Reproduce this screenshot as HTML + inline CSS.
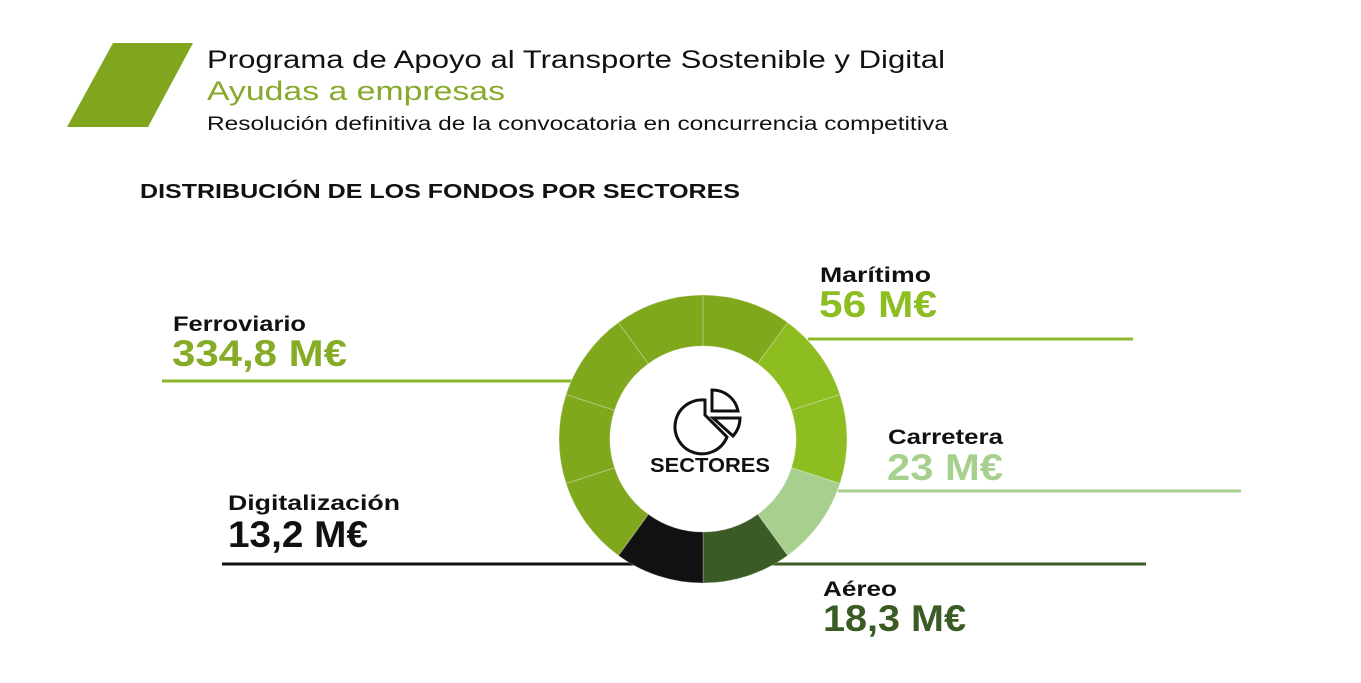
<!DOCTYPE html>
<html><head><meta charset="utf-8"><style>
html,body{margin:0;padding:0;background:#fff;}
svg{display:block;font-family:"Liberation Sans",sans-serif;}
</style></head><body>
<svg width="1361" height="683" viewBox="0 0 1361 683">
<polygon points="113,43 193,43 148,127 67,127" fill="#7fa61e"/>
<text x="207" y="68" font-size="25" fill="#111" textLength="738" lengthAdjust="spacingAndGlyphs">Programa de Apoyo al Transporte Sostenible y Digital</text>
<text x="207" y="100" font-size="27" fill="#86aa2c" textLength="298" lengthAdjust="spacingAndGlyphs">Ayudas a empresas</text>
<text x="207" y="130" font-size="19" fill="#111" textLength="741" lengthAdjust="spacingAndGlyphs">Resolución definitiva de la convocatoria en concurrencia competitiva</text>
<text x="140" y="198" font-size="20" font-weight="bold" fill="#111" textLength="600" lengthAdjust="spacingAndGlyphs">DISTRIBUCIÓN DE LOS FONDOS POR SECTORES</text>
<g id="lines"></g>
<g id="donut"></g>
<g id="labels"></g>
<g fill="none" stroke="#111" stroke-width="3">
<path d="M705,400 A27,27 0 1 0 727,437 L705,415 Z"/>
<path d="M712,390 L712,411 L738,411 A26,26 0 0 0 712,390 Z"/>
<path d="M713,418 L740,418 A27,27 0 0 1 733,436 Z"/>
</g>
<text x="710" y="472" font-size="20" font-weight="bold" fill="#111" text-anchor="middle" textLength="120" lengthAdjust="spacingAndGlyphs">SECTORES</text>
</svg>
<script>
const sectors = ["Ferroviario","Marítimo","Carretera","Aéreo","Digitalización"];
const values = [334.8, 56, 23, 18.3, 13.2];
const valueLabels = ["334,8 M€","56 M€","23 M€","18,3 M€","13,2 M€"];
const segmentUnits = [5, 2, 1, 1, 1];
const colors = ["#80a81c","#8dbd21","#a7d08f","#3b5b24","#111111"];
const NS="http://www.w3.org/2000/svg";
const cx=703, cy=439, R=144, r=93;
function mk(tag,attrs,parent){const e=document.createElementNS(NS,tag);for(const k in attrs)e.setAttribute(k,attrs[k]);parent.appendChild(e);return e;}
function pt(a,rad){return [cx+rad*Math.sin(a*Math.PI/180), cy-rad*Math.cos(a*Math.PI/180)];}
// order around the ring clockwise from top: Ferroviario first unit, then Marítimo, Carretera, Aéreo, Digitalización, rest of Ferroviario
const total=segmentUnits.reduce((a,b)=>a+b,0);
const step=360/total;
const order=[];
order.push(0);
for(let i=1;i<sectors.length;i++)for(let k=0;k<segmentUnits[i];k++)order.push(i);
for(let k=1;k<segmentUnits[0];k++)order.push(0);
const donut=document.getElementById('donut');
order.forEach((si,j)=>{
  const a0=j*step,a1=(j+1)*step;
  const [x0,y0]=pt(a0,R),[x1,y1]=pt(a1,R),[x2,y2]=pt(a1,r),[x3,y3]=pt(a0,r);
  const p=mk('path',{d:`M${x0},${y0} A${R},${R} 0 0 1 ${x1},${y1} L${x2},${y2} A${r},${r} 0 0 0 ${x3},${y3} Z`,fill:colors[si],stroke:"rgba(255,255,255,0.25)","stroke-width":"1"},donut);
  
  
});
// leader lines and labels
const lineY=[381,339,491,564,564];
const lineX1=[162,808,838,770,222];
const lineX2=[575,1133,1241,1146,640];
const lineColor=["#8ab52a","#8dbb2a","#a7d08f","#3b5b24","#111111"];
const lines=document.getElementById('lines');
sectors.forEach((s,i)=>{
  const l=mk('line',{x1:lineX1[i],x2:lineX2[i],y1:lineY[i],y2:lineY[i],stroke:lineColor[i],"stroke-width":"3"},lines);
  
  
});
const labX=[173,820,888,823,228];
const labY=[331,282,444,596,510];
const labW=[133,111,115,74,172];
const valX=[172,819,887,823,228];
const valY=[366,317,480,631,547];
const valW=[175,118,116,143,140];
const valColor=["#86ab25","#8dbd21","#a7d08f","#3b5b24","#111111"];
const labels=document.getElementById('labels');
sectors.forEach((s,i)=>{
  const t=mk('text',{x:labX[i],y:labY[i],"font-size":"21","font-weight":"bold",fill:"#111",textLength:labW[i],lengthAdjust:"spacingAndGlyphs"},labels);
  t.textContent=s;
  
  
  const v=mk('text',{x:valX[i],y:valY[i],"font-size":"37","font-weight":"bold",fill:valColor[i],textLength:valW[i],lengthAdjust:"spacingAndGlyphs"},labels);
  v.textContent=valueLabels[i];
  
  
});
</script>
</body></html>
